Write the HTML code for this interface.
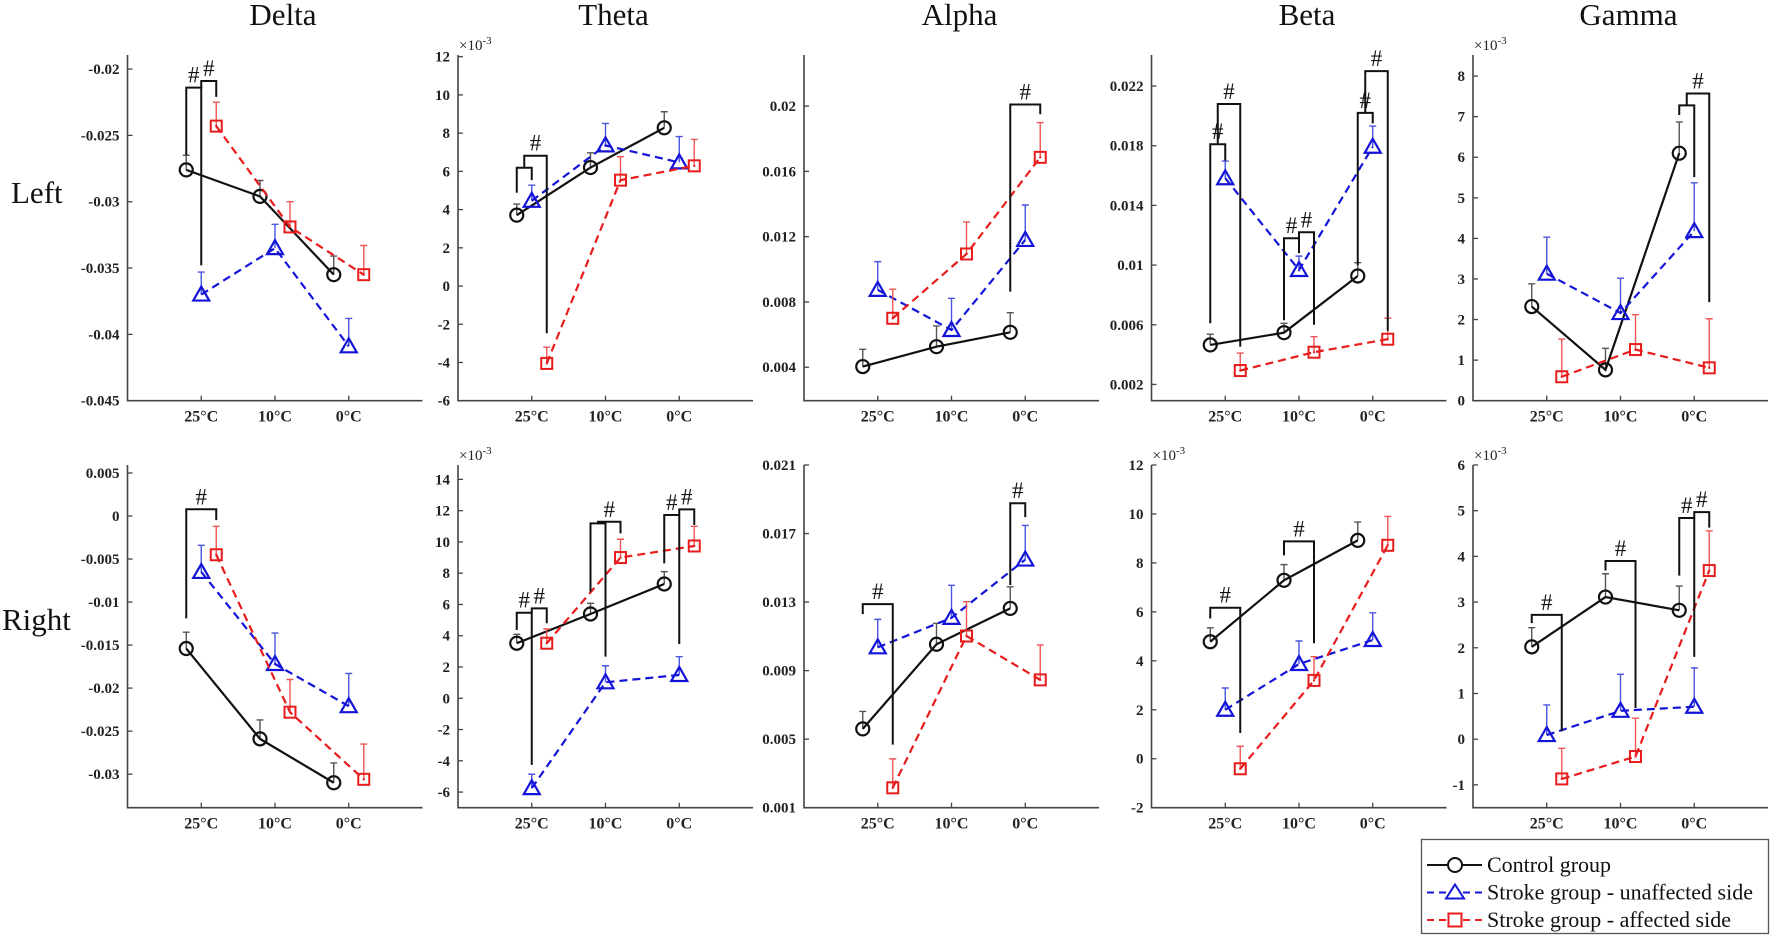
<!DOCTYPE html>
<html><head><meta charset="utf-8"><title>EEG band power chart</title>
<style>
html,body{margin:0;padding:0;background:#fff;}
svg{display:block;}
text{font-family:"Liberation Serif","Times New Roman",serif;}
</style></head>
<body>
<svg id="fig" width="1772" height="940" viewBox="0 0 1772 940" xmlns="http://www.w3.org/2000/svg"></svg>
<script>
const conditions=["25°C","10°C","0°C"];
const bands=["Delta","Theta","Alpha","Beta","Gamma"];
const sides=["Left","Right"];

const controlLeft=[[-0.0276,-0.0296,-0.0355],[3.71,6.2,8.28],[0.00404,0.00526,0.00614],[0.00465,0.00547,0.00927],[2.32,0.76,6.1]];
const controlLeftErr=[[-0.0265,-0.0284,-0.0341],[4.29,6.97,9.12],[0.0051,0.00653,0.00734],[0.00537,0.0061,0.01016],[2.88,1.29,6.87]];
const unaffLeft=[[-0.037,-0.0335,-0.0409],[4.46,7.36,6.47],[0.00874,0.00628,0.0118],[0.01582,0.00967,0.01793],[3.13,2.16,4.18]];
const unaffLeftErr=[[-0.0353,-0.0317,-0.0388],[5.28,8.51,7.82],[0.01047,0.00822,0.01394],[0.01697,0.0106,0.01932],[4.03,3.02,5.37]];
const affLeft=[[-0.0243,-0.0319,-0.0355],[-4.05,5.54,6.29],[0.0070,0.01094,0.01686],[0.00293,0.00416,0.00503],[0.59,1.26,0.81]];
const affLeftErr=[[-0.0225,-0.030,-0.0333],[-3.2,6.77,7.67],[0.00878,0.0129,0.01899],[0.0041,0.0052,0.00644],[1.52,2.12,2.02]];

const controlRight=[[-0.0154,-0.0259,-0.031],[3.52,5.39,7.31],[0.0056,0.01054,0.01263],[4.78,7.29,8.92],[2.02,3.11,2.82]];
const controlRightErr=[[-0.0135,-0.0237,-0.0287],[4.09,6.07,8.1],[0.00662,0.01176,0.01389],[5.35,7.93,9.67],[2.44,3.62,3.35]];
const unaffRight=[[-0.0065,-0.0172,-0.0221],[-5.75,1.02,1.49],[0.01036,0.01208,0.01548],[2.0,3.87,4.85],[0.09,0.62,0.71]];
const unaffRightErr=[[-0.0034,-0.0136,-0.0183],[-4.86,2.08,2.66],[0.01199,0.01398,0.01747],[2.89,4.81,5.96],[0.75,1.42,1.56]];
const affRight=[[-0.0045,-0.0228,-0.0306],[3.52,9.0,9.74],[0.00216,0.01102,0.00846],[-0.41,3.2,8.72],[-0.87,-0.38,3.69]];
const affRightErr=[[-0.0012,-0.019,-0.0265],[4.43,10.17,11.0],[0.00385,0.01302,0.0105],[0.51,4.17,9.9],[-0.2,0.46,4.56]];

const rangesLeft=[[-0.045,-0.01894],[-6,12.09],[0.00195,0.02313],[0.00091,0.02408],[0,8.52]];
const rangesRight=[[-0.0339,0.00593],[-7,14.92],[0.001,0.021],[-2,12],[-1.5,6]];
const ticksLeft=[["-0.045","-0.04","-0.035","-0.03","-0.025","-0.02"],["-6","-4","-2","0","2","4","6","8","10","12"],["0.004","0.008","0.012","0.016","0.02"],["0.002","0.006","0.01","0.014","0.018","0.022"],["0","1","2","3","4","5","6","7","8"]];
const ticksRight=[["-0.03","-0.025","-0.02","-0.015","-0.01","-0.005","0","0.005"],["-6","-4","-2","0","2","4","6","8","10","12","14"],["0.001","0.005","0.009","0.013","0.017","0.021"],["-2","0","2","4","6","8","10","12"],["-1","0","1","2","3","4","5","6"]];
const expLeft=[false,true,false,false,true];
const expRight=[false,true,false,true,true];

// [band, condition, from, to, top, fromBottom, toBottom, label]
const bracketsLeft=[
[0,0,'c','b',-0.0214,-0.0265,-0.0348,'#'],
[0,0,'b','r',-0.0209,-0.0214,-0.0221,'#'],
[1,0,'c','b',6.19,4.88,5.54,''],
[1,0,'m','r',6.82,6.19,-2.47,'#'],
[2,2,'c','r',0.0201,0.00863,0.0195,'#'],
[3,0,'c','b',0.0181,0.0061,0.017,'#'],
[3,0,'m','r',0.0208,0.0181,0.00453,'#'],
[3,1,'c','b',0.0118,0.0063,0.0108,'#'],
[3,1,'b','r',0.0122,0.0118,0.006,'#'],
[3,2,'c','b',0.0202,0.010,0.0195,'#'],
[3,2,'m','r',0.023,0.0202,0.0056,'#'],
[4,2,'c','b',7.28,7.04,5.51,''],
[4,2,'m','r',7.57,7.28,2.43,'#']];
const bracketsRight=[
[0,0,'c','r',0.00078,-0.0119,-0.00047,'#'],
[1,0,'c','b',5.47,4.37,-4.26,'#'],
[1,0,'b','r',5.75,5.47,4.8,'#'],
[1,1,'c','b',11.19,6.82,2.66,''],
[1,1,'m','r',11.29,11.19,10.55,'#'],
[1,2,'c','b',11.72,8.63,3.47,'#'],
[1,2,'b','r',12.08,11.72,11.08,'#'],
[2,0,'c','r',0.01288,0.0123,0.00468,'#'],
[2,2,'c','b',0.01877,0.0140,0.01796,'#'],
[3,0,'c','r',6.17,5.73,1.05,'#'],
[3,1,'c','r',8.88,8.31,4.72,'#'],
[4,0,'c','r',2.72,2.54,0.17,'#'],
[4,1,'c','r',3.9,3.69,0.68,'#'],
[4,2,'c','b',4.84,3.58,1.8,'#'],
[4,2,'b','r',4.97,4.84,4.63,'#']];

const NS="http://www.w3.org/2000/svg";
const svg=document.getElementById('fig');
const AXX=[127.5,458,804,1151.5,1473];
const AW=295;
const ROWT=[55,465], ROWB=[400.7,807.7];
const OFF={c:-15,b:0,r:15,m:-7.5};
const COL={c:'#111',b:'#1414d8',r:'#e81c1c'};
const ECOL={c:'#555',b:'#4a55e0',r:'#f05555'};

function el(tag,attrs,parent){const e=document.createElementNS(NS,tag);for(const k in attrs)e.setAttribute(k,attrs[k]);(parent||svg).appendChild(e);return e;}

// titles
bands.forEach((b,i)=>{
  const t=el('text',{x:AXX[i]+AW/2+8,y:25,'font-size':31,'text-anchor':'middle',fill:'#111'});
  t.textContent=b;
  
  
});
sides.forEach((s,r)=>{
  const t=el('text',{x:r?2:11,y:r?630:203,'font-size':31,fill:'#111'});
  t.textContent=s;
  
  
});

function panel(r,i){
  const rng=r?rangesRight[i]:rangesLeft[i];
  const ticks=r?ticksRight[i]:ticksLeft[i];
  const ex=r?expRight[i]:expLeft[i];
  const ctrl=r?controlRight:controlLeft, ctrlE=r?controlRightErr:controlLeftErr;
  const un=r?unaffRight:unaffLeft, unE=r?unaffRightErr:unaffLeftErr;
  const af=r?affRight:affLeft, afE=r?affRightErr:affLeftErr;
  const brs=(r?bracketsRight:bracketsLeft).filter(b=>b[0]===i);
  const x0=AXX[i], yT=ROWT[r], yB=ROWB[r];
  const y=v=>yB-(v-rng[0])/(rng[1]-rng[0])*(yB-yT);
  const xc=k=>x0+AW*(k+1)/4;
  const g=el('g',{});
  
  
  // axes
  const ax=el('path',{d:`M${x0},${yT}V${yB}H${x0+AW}`,stroke:'#444','stroke-width':1.6,fill:'none'},g);
  
  
  ticks.forEach(lab=>{
    const v=parseFloat(lab), yy=y(v);
    el('line',{x1:x0,x2:x0+5,y1:yy,y2:yy,stroke:'#444','stroke-width':1.3},g);
    const t=el('text',{x:x0-8,y:yy+5,'font-size':15,'font-weight':'bold','text-anchor':'end',fill:'#222'},g);
    t.textContent=lab;
    
    
  });
  conditions.forEach((c,k)=>{
    el('line',{x1:xc(k),x2:xc(k),y1:yB,y2:yB-5,stroke:'#444','stroke-width':1.3},g);
    const t=el('text',{x:xc(k),y:yB+21,'font-size':16,'font-weight':'bold','text-anchor':'middle',fill:'#222'},g);
    t.textContent=c;
    
    
  });
  if(ex){
    const t=el('text',{x:x0+1,y:yT-5,'font-size':15,fill:'#222'},g);
    t.innerHTML='×10<tspan dy="-6" font-size="11">-3</tspan>';
    
    
  }
  // series
  const series=[['c',ctrl[i],ctrlE[i],'control'],['b',un[i],unE[i],'unaffected'],['r',af[i],afE[i],'affected']];
  series.forEach(([key,vals,errs,nm])=>{
    const px=k=>xc(k)+OFF[key];
    // error bars
    vals.forEach((v,k)=>{
      const eb=el('path',{d:`M${px(k)},${y(v)}V${y(errs[k])}M${px(k)-3.5},${y(errs[k])}h7`,stroke:ECOL[key],'stroke-width':1.4,fill:'none'},g);
      
      
    });
    const d=vals.map((v,k)=>(k?'L':'M')+px(k)+','+y(v)).join('');
    const ln=el('path',{d:d,stroke:COL[key],'stroke-width':2.2,fill:'none','stroke-dasharray':key==='c'?'none':'8,5'},g);
    
    
    vals.forEach((v,k)=>{
      const X=px(k),Y=y(v);let m;
      if(key==='c') m=el('circle',{cx:X,cy:Y,r:6.5,fill:'none',stroke:COL.c,'stroke-width':2.2},g);
      else if(key==='b') m=el('path',{d:`M${X},${Y-8}L${X+8},${Y+6}L${X-8},${Y+6}Z`,fill:'none',stroke:COL.b,'stroke-width':2.2},g);
      else {m=el('g',{},g);el('rect',{x:X-5.5,y:Y-5.5,width:11,height:11,fill:'none',stroke:COL.r,'stroke-width':2},m);el('rect',{x:X-1,y:Y-1,width:2,height:2,fill:COL.r},m);}
      
      
    });
  });
  // brackets
  brs.forEach(b=>{
    const k=b[1];
    const xa=xc(k)+OFF[b[2]], xb=xc(k)+OFF[b[3]];
    const p=el('path',{d:`M${xa},${y(b[5])}V${y(b[4])}H${xb}V${y(b[6])}`,stroke:'#111','stroke-width':2,fill:'none'},g);
    
    
    if(b[7]){
      const t=el('text',{x:(xa+xb)/2,y:y(b[4])-5,'font-size':23,'text-anchor':'middle',fill:'#111'},g);
      t.textContent=b[7];
      
      
    }
  });
}
for(let r=0;r<2;r++)for(let i=0;i<5;i++)panel(r,i);

// legend
const lg=el('g',{});


el('rect',{x:1421.5,y:839.5,width:347,height:94,fill:'#fff',stroke:'#555','stroke-width':1.3},lg);
const legItems=[['c','Control group'],['b','Stroke group - unaffected side'],['r','Stroke group - affected side']];
legItems.forEach(([key,label],j)=>{
  const Y=865+j*27.5, X=1455;
  el('line',{x1:1427,x2:1482,y1:Y,y2:Y,stroke:COL[key],'stroke-width':2,'stroke-dasharray':key==='c'?'none':'7,5'},lg);
  if(key==='c') el('circle',{cx:X,cy:Y,r:7,fill:'#fff',stroke:COL.c,'stroke-width':2},lg);
  else if(key==='b') el('path',{d:`M${X},${Y-8}L${X+9},${Y+6}L${X-9},${Y+6}Z`,fill:'#fff',stroke:COL.b,'stroke-width':2},lg);
  else el('rect',{x:X-6.5,y:Y-6.5,width:13,height:13,fill:'#fff',stroke:COL.r,'stroke-width':2},lg);
  const t=el('text',{x:1487,y:Y+7,'font-size':22,fill:'#111'},lg);
  t.textContent=label;
  
  
});
</script>
</body></html>
